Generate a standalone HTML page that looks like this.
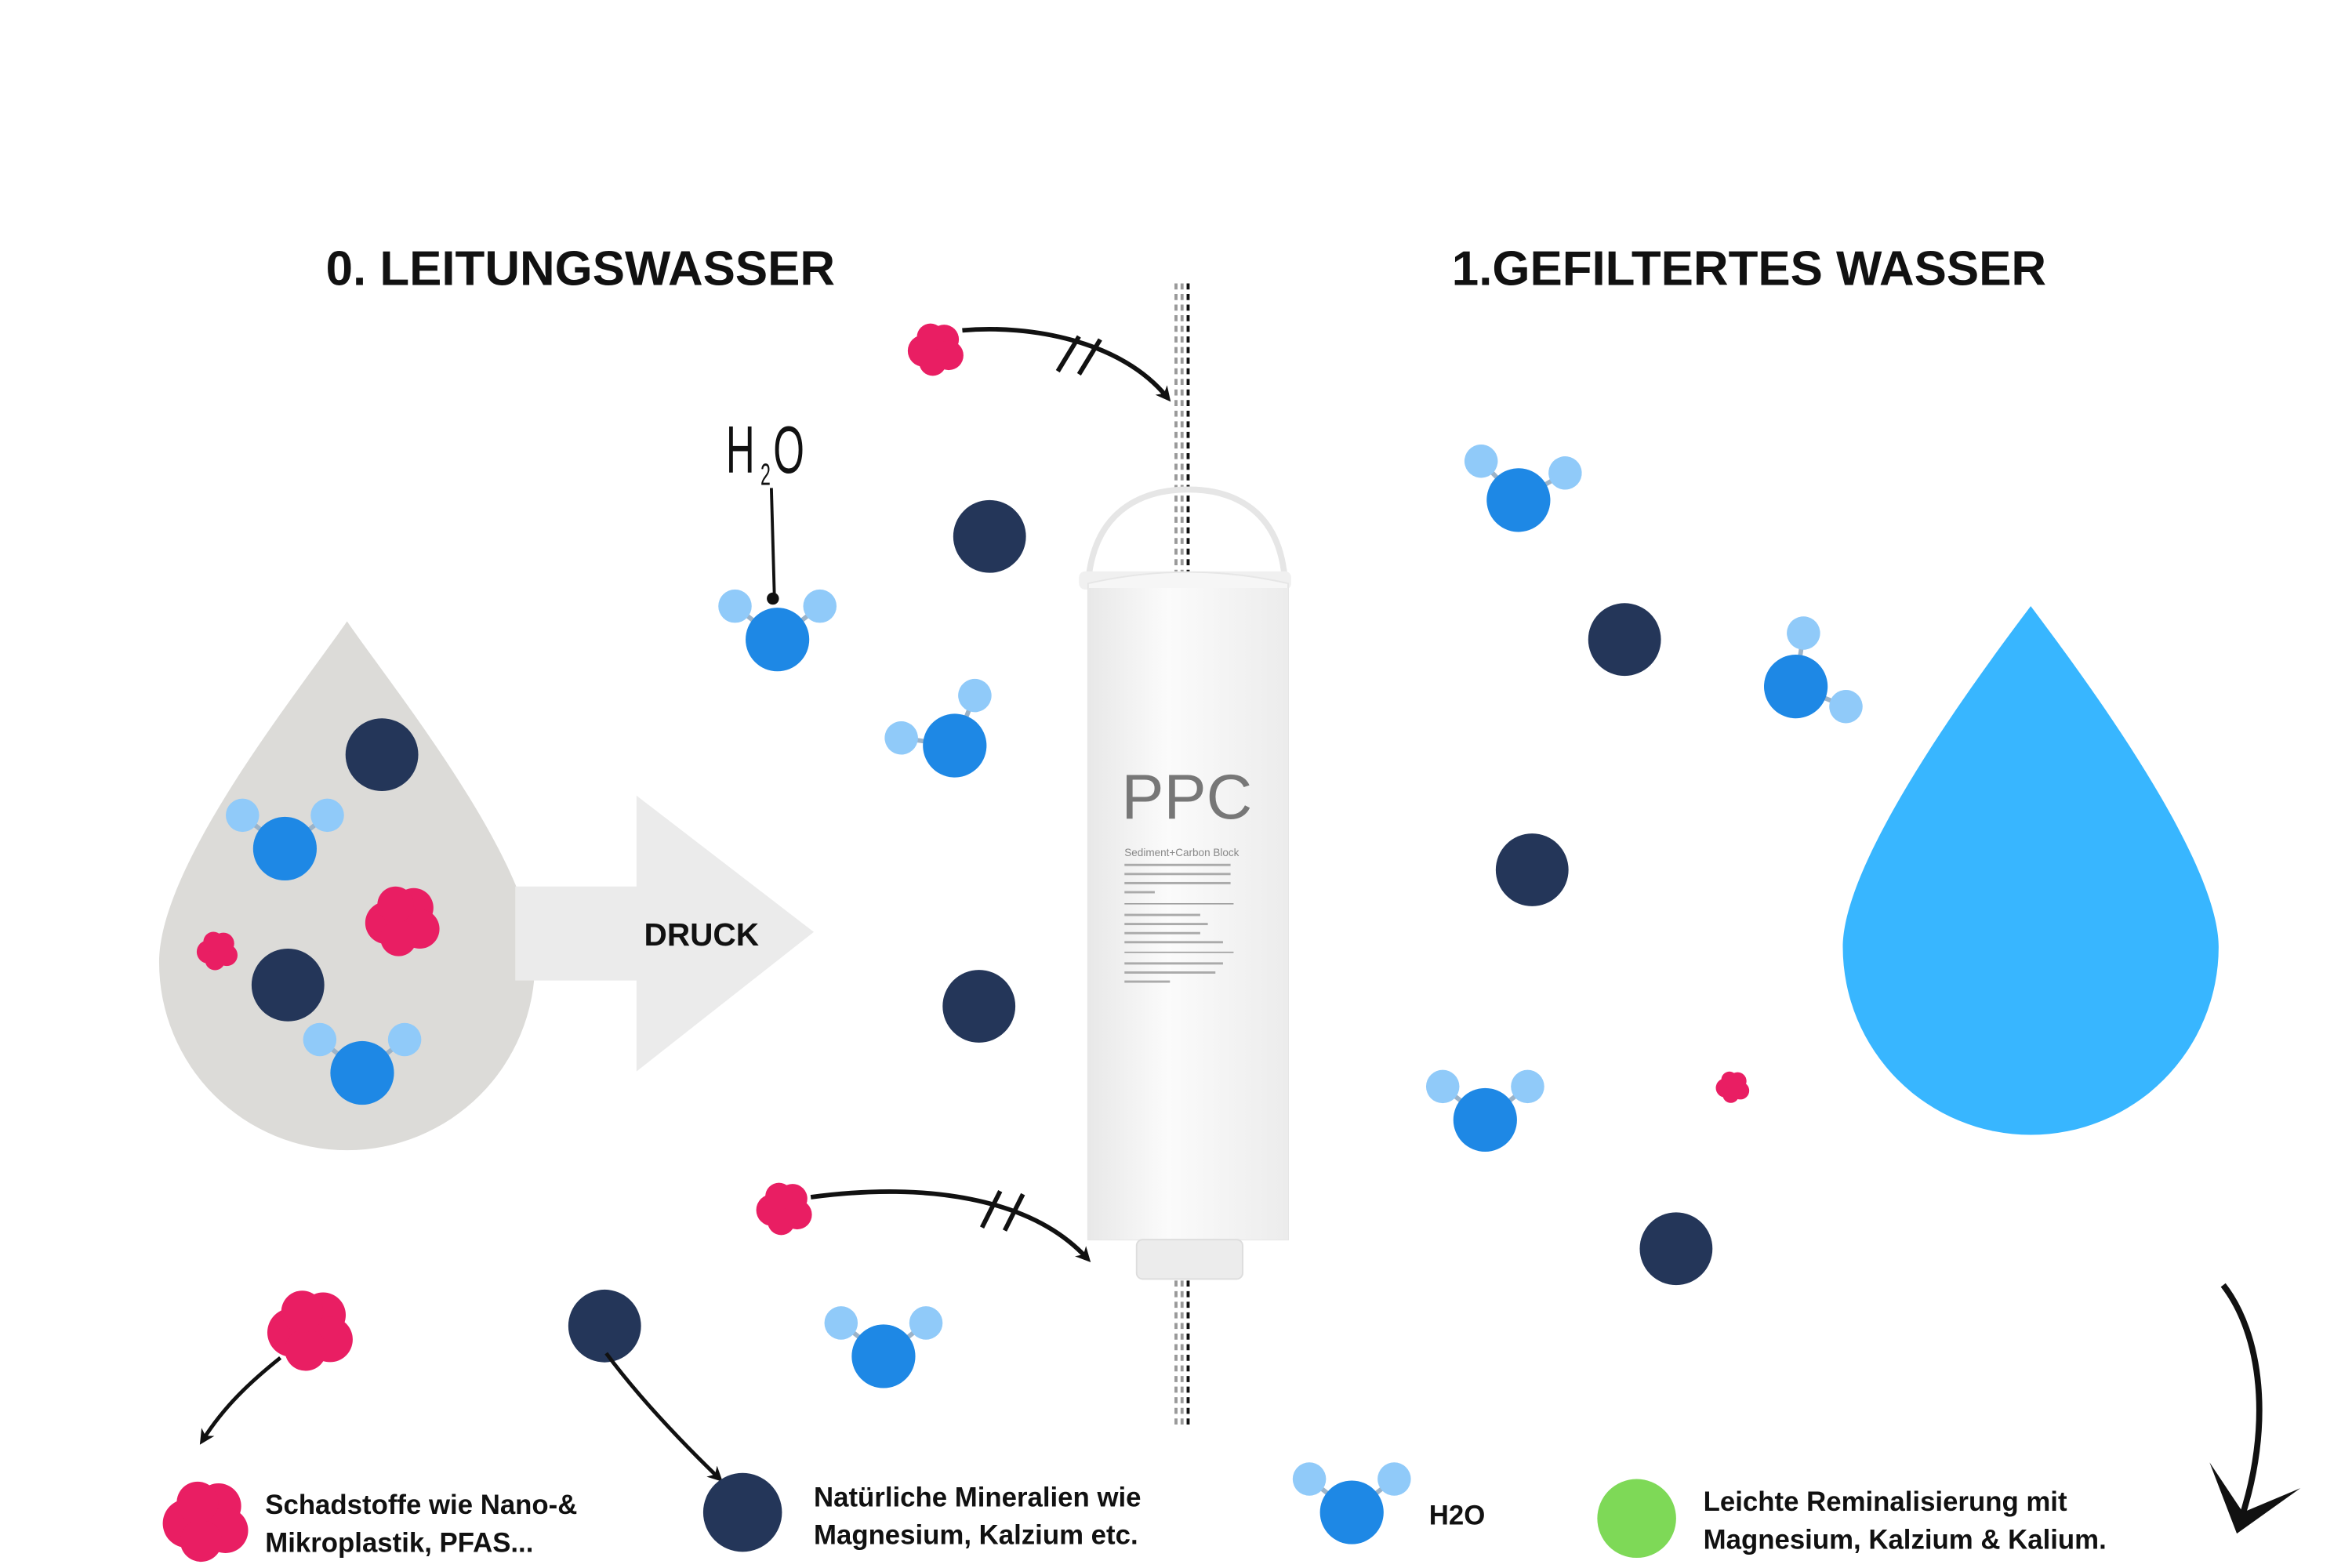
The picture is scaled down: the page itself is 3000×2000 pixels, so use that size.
<!DOCTYPE html>
<html><head><meta charset="utf-8"><style>
html,body{margin:0;padding:0;background:#fff;}
svg{display:block;}
text{font-family:"Liberation Sans",sans-serif;font-weight:bold;fill:#111;}
</style></head><body>
<svg width="3000" height="2000" viewBox="0 0 1552 1034.7" preserveAspectRatio="none" xmlns="http://www.w3.org/2000/svg">
<defs>
<g id="h2o">
<line x1="0" y1="0" x2="-28" y2="-22" stroke="#9bb3c9" stroke-width="3"/>
<line x1="0" y1="0" x2="28" y2="-22" stroke="#9bb3c9" stroke-width="3"/>
<circle cx="-28" cy="-22" r="11" fill="#90caf9"/>
<circle cx="28" cy="-22" r="11" fill="#90caf9"/>
<circle cx="0" cy="0" r="21" fill="#1e88e5"/>
</g>
<g id="blob">
<circle cx="-10" cy="2" r="14" fill="#e91e63"/>
<circle cx="8" cy="-8" r="13" fill="#e91e63"/>
<circle cx="12" cy="6" r="13" fill="#e91e63"/>
<circle cx="-2" cy="12" r="12" fill="#e91e63"/>
<circle cx="-4" cy="-10" r="12" fill="#e91e63"/>
</g>
<marker id="ah" markerWidth="10" markerHeight="10" refX="6" refY="5" orient="auto" markerUnits="userSpaceOnUse">
<path d="M0,0 L10,5 L0,10 L3,5 Z" fill="#111"/>
</marker>
<linearGradient id="fg" x1="0" x2="1"><stop offset="0" stop-color="#e8e8e8"/><stop offset="0.4" stop-color="#fbfbfb"/><stop offset="1" stop-color="#ececec"/></linearGradient>
</defs>

<text x="215" y="188" font-size="32">0. LEITUNGSWASSER</text>
<text x="958" y="188" font-size="32">1.GEFILTERTES WASSER</text>

<path d="M229,410 C260,455 353,570 353,635 A124,124 0 0 1 105,635 C105,570 198,455 229,410 Z" fill="#dcdbd8"/>
<path d="M340,585 L420,585 L420,525 L537,615 L420,707 L420,647 L340,647 Z" fill="#ebebeb"/>
<text x="425" y="624" font-size="21">DRUCK</text>

<circle cx="252" cy="498" r="24" fill="#243659"/>
<use href="#h2o" x="188" y="560"/>
<use href="#blob" x="265" y="607"/>
<use href="#blob" transform="translate(143,627) scale(0.55)"/>
<circle cx="190" cy="650" r="24" fill="#243659"/>
<use href="#h2o" x="239" y="708"/>

<!-- H2O handwritten -->
<g transform="translate(479,312) scale(0.6,1)">
<text x="0" y="0" font-size="44" style="font-weight:normal">H</text>
<text x="38" y="8" font-size="20" style="font-weight:normal">2</text>
<text x="52" y="0" font-size="44" style="font-weight:normal">O</text>
</g>
<line x1="509" y1="322" x2="511" y2="394" stroke="#111" stroke-width="2"/>
<use href="#h2o" x="513" y="422"/>
<circle cx="510" cy="395" r="4" fill="#111"/>

<circle cx="653" cy="354" r="24" fill="#243659"/>
<use href="#h2o" transform="translate(630,492) rotate(-30)"/>
<circle cx="646" cy="664" r="24" fill="#243659"/>
<use href="#h2o" x="583" y="895"/>

<use href="#blob" transform="translate(617,230) scale(0.75)"/>
<path d="M635,218 C680,214 740,225 770,262" stroke="#111" stroke-width="3" fill="none" marker-end="url(#ah)"/>
<line x1="698" y1="245" x2="712" y2="222" stroke="#111" stroke-width="3"/>
<line x1="712" y1="247" x2="726" y2="224" stroke="#111" stroke-width="3"/>
<use href="#blob" transform="translate(517,797) scale(0.75)"/>
<path d="M535,790 C610,780 680,790 717,830" stroke="#111" stroke-width="3" fill="none" marker-end="url(#ah)"/>
<line x1="648" y1="810" x2="660" y2="786" stroke="#111" stroke-width="3"/>
<line x1="663" y1="812" x2="675" y2="788" stroke="#111" stroke-width="3"/>

<line x1="776" y1="187" x2="776" y2="940" stroke="#999" stroke-width="2" stroke-dasharray="4,3"/>
<line x1="780" y1="187" x2="780" y2="940" stroke="#999" stroke-width="2" stroke-dasharray="4,3"/>
<line x1="784" y1="187" x2="784" y2="940" stroke="#111" stroke-width="2" stroke-dasharray="4,3"/>

<path d="M718,385 C722,332 760,323 784,323 C808,323 845,332 848,385" stroke="#e6e6e6" stroke-width="4" fill="none"/>
<rect x="712" y="377" width="140" height="12" rx="4" fill="#f0f0f0"/>
<path d="M718,385 Q784,370 850,385 L850,818 L718,818 Z" fill="#f6f6f6" stroke="#e6e6e6"/>
<rect x="718" y="388" width="132" height="430" fill="url(#fg)"/>
<rect x="750" y="818" width="70" height="26" rx="4" fill="#ececec" stroke="#ddd"/>
<text x="740" y="540" font-size="42" style="font-weight:normal;fill:#777">PPC</text>
<text x="742" y="565" font-size="7" style="font-weight:normal;fill:#888">Sediment+Carbon Block</text>
<g fill="#aaa"><rect x="742" y="570" width="70" height="1.5"/><rect x="742" y="576" width="70" height="1.5"/><rect x="742" y="582" width="70" height="1.5"/><rect x="742" y="588" width="20" height="1.5"/>
<rect x="742" y="596" width="72" height="0.8" fill="#999"/>
<rect x="742" y="603" width="50" height="1.5"/><rect x="742" y="609" width="55" height="1.5"/><rect x="742" y="615" width="50" height="1.5"/><rect x="742" y="621" width="65" height="1.5"/>
<rect x="742" y="628" width="72" height="0.8" fill="#999"/>
<rect x="742" y="635" width="65" height="1.5"/><rect x="742" y="641" width="60" height="1.5"/><rect x="742" y="647" width="30" height="1.5"/></g>

<use href="#h2o" transform="translate(1002,330) rotate(8)"/>
<circle cx="1072" cy="422" r="24" fill="#243659"/>
<use href="#h2o" transform="translate(1185,453) rotate(60)"/>
<circle cx="1011" cy="574" r="24" fill="#243659"/>
<use href="#h2o" x="980" y="739"/>
<use href="#blob" transform="translate(1143,717) scale(0.45)"/>
<circle cx="1106" cy="824" r="24" fill="#243659"/>

<path d="M1340,400 C1370,440 1464,565 1464,625 A124,124 0 0 1 1216,625 C1216,565 1310,440 1340,400 Z" fill="#38b6ff"/>

<path d="M1467,848 C1492,880 1500,940 1478,1005" stroke="#111" stroke-width="4" fill="none"/>
<path d="M1458,965 L1476,1012 L1518,982 L1480,998 Z" fill="#111"/>

<use href="#blob" transform="translate(204,877) scale(1.15)"/>
<path d="M185,896 C165,912 148,928 134,950" stroke="#111" stroke-width="2.5" fill="none" marker-end="url(#ah)"/>
<circle cx="399" cy="875" r="24" fill="#243659"/>
<path d="M400,893 C420,920 448,950 474,975" stroke="#111" stroke-width="2.5" fill="none" marker-end="url(#ah)"/>

<use href="#blob" transform="translate(135,1003) scale(1.15)"/>
<text x="175" y="999" font-size="18">Schadstoffe wie Nano-&amp;</text>
<text x="175" y="1024" font-size="18">Mikroplastik, PFAS...</text>
<circle cx="490" cy="998" r="26" fill="#243659"/>
<text x="537" y="994" font-size="18">Natürliche Mineralien wie</text>
<text x="537" y="1019" font-size="18">Magnesium, Kalzium etc.</text>
<use href="#h2o" x="892" y="998"/>
<text x="943" y="1006" font-size="18">H2O</text>
<circle cx="1080" cy="1002" r="26" fill="#7ed957"/>
<text x="1124" y="997" font-size="18">Leichte Reminalisierung mit</text>
<text x="1124" y="1022" font-size="18">Magnesium, Kalzium &amp; Kalium.</text>
</svg>
</body></html>
